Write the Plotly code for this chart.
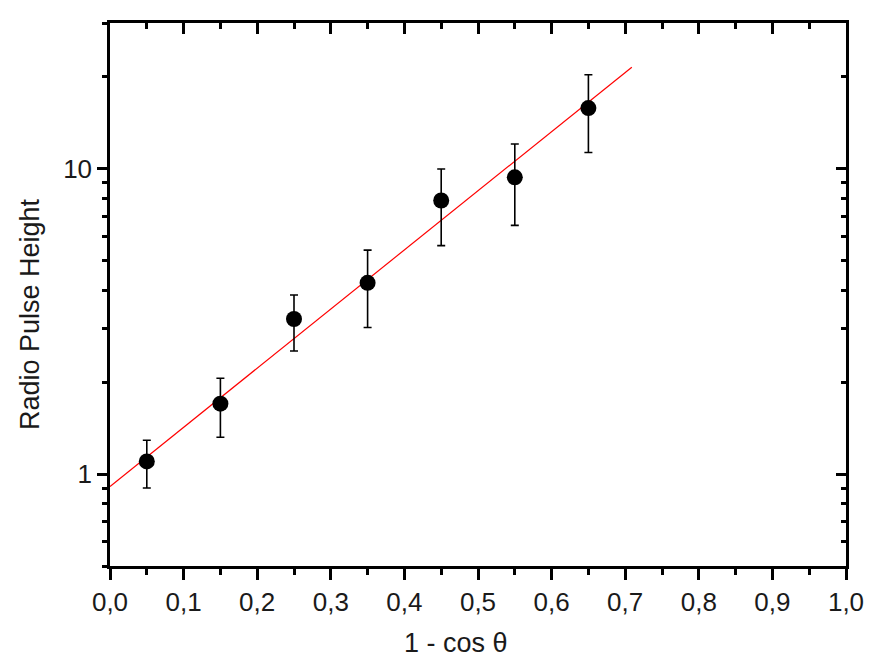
import math
import plotly.graph_objects as go

# Data
x_vals = [0.05, 0.15, 0.25, 0.35, 0.45, 0.55, 0.65]
y_vals = [1.10, 1.70, 3.22, 4.23, 7.87, 9.37, 15.8]
y_top = [1.29, 2.06, 3.86, 5.41, 9.98, 12.05, 20.3]
y_bottom = [0.90, 1.32, 2.53, 3.02, 5.60, 6.52, 11.3]

fit_x = [0.0, 0.709]
fit_y = [0.911, 21.5]

x_ticks = [round(0.1 * i, 1) for i in range(11)]
y_major = [1, 10]
y_minor = [0.5, 0.6, 0.7, 0.8, 0.9, 2, 3, 4, 5, 6, 7, 8, 9, 20, 30]

err_plus = [t - v for t, v in zip(y_top, y_vals)]
err_minus = [v - b for v, b in zip(y_vals, y_bottom)]

FONT = "Liberation Sans, Arial, sans-serif"
TXT = "#1a1a1a"

fig = go.Figure()
fig.add_trace(go.Scatter(
    x=fit_x, y=fit_y, mode="lines",
    line=dict(color="#ff0000", width=1.2), showlegend=False, hoverinfo="skip"))
fig.add_trace(go.Scatter(
    x=x_vals, y=y_vals, mode="markers",
    marker=dict(color="black", size=16),
    error_y=dict(type="data", symmetric=False, array=err_plus, arrayminus=err_minus,
                 color="black", thickness=1.6, width=4),
    showlegend=False))
# dummy trace for mirrored axes with inward ticks
fig.add_trace(go.Scatter(x=[None], y=[None], xaxis="x2", yaxis="y2", showlegend=False, hoverinfo="skip"))

yr = [math.log10(0.5), math.log10(30)]
common_line = dict(showline=True, linecolor="black", linewidth=2.5, showgrid=False, zeroline=False)

fig.update_layout(
    width=884, height=666,
    margin=dict(l=110, r=38, t=23, b=100),
    paper_bgcolor="white", plot_bgcolor="white",
    separators=",.",
    font=dict(family=FONT, color=TXT, size=26),
    xaxis=dict(range=[0, 1], tickmode="array", tickvals=x_ticks, tickformat=".1f",
               ticks="outside", ticklen=11, tickwidth=2.5, tickcolor="black",
               minor=dict(dtick=0.05, tick0=0, ticks="outside", ticklen=6, tickwidth=2.5, tickcolor="black"),
               tickfont=dict(size=26, family=FONT, color=TXT),
               **common_line),
    yaxis=dict(type="log", range=yr, tickmode="array", tickvals=y_major, ticktext=["1", "10"],
               ticks="outside", ticklen=10, tickwidth=2.5, tickcolor="black",
               minor=dict(tickmode="array", tickvals=y_minor, ticks="outside", ticklen=5, tickwidth=2.5, tickcolor="black"),
               tickfont=dict(size=26, family=FONT, color=TXT),
               **common_line),
    xaxis2=dict(overlaying="x", side="top", anchor="y", range=[0, 1], tickmode="array", tickvals=x_ticks,
                showticklabels=False, ticks="inside", ticklen=11, tickwidth=2.5, tickcolor="black",
                minor=dict(dtick=0.05, tick0=0, ticks="inside", ticklen=6, tickwidth=2.5, tickcolor="black"),
                **common_line),
    yaxis2=dict(overlaying="y", side="right", anchor="x", type="log", range=yr, tickmode="array",
                tickvals=y_major, showticklabels=False, ticks="inside", ticklen=10, tickwidth=2.5, tickcolor="black",
                minor=dict(tickmode="array", tickvals=y_minor, ticks="inside", ticklen=5, tickwidth=2.5, tickcolor="black"),
                **common_line),
    annotations=[
        dict(text="1 - cos θ", xref="paper", yref="paper", x=0.470, y=-0.1418,
             xanchor="center", yanchor="middle", showarrow=False,
             font=dict(size=27, family=FONT, color=TXT)),
        dict(text="Radio Pulse Height", xref="paper", yref="paper", x=-0.1087, y=0.464,
             xanchor="center", yanchor="middle", showarrow=False, textangle=-90,
             font=dict(size=27, family=FONT, color=TXT)),
    ],
)

fig.write_html("out.html")
